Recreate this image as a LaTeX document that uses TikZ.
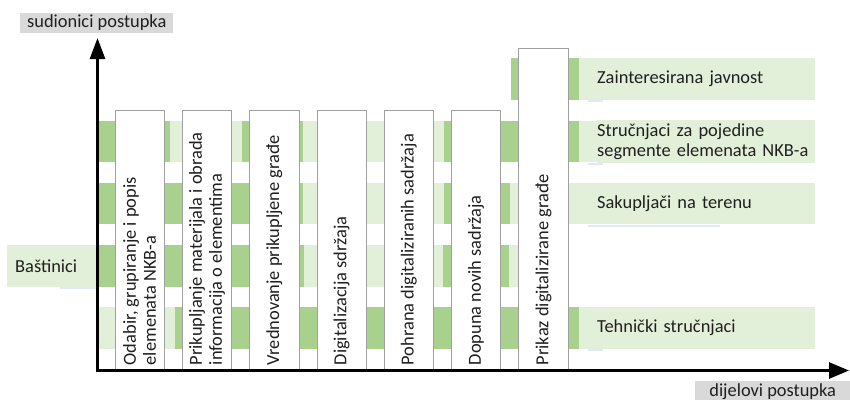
\documentclass[tikz,border=0pt]{standalone}
\usepackage{fontspec}
\setmainfont{Carlito}
\usetikzlibrary{arrows.meta}
\definecolor{dkg}{HTML}{A9D18E}
\definecolor{ltg}{HTML}{E2F0D9}
\definecolor{boxline}{HTML}{A0A0A0}
\definecolor{lblgray}{HTML}{D9D9D9}
\definecolor{txt}{HTML}{1F1F1F}
\definecolor{shd}{HTML}{E0E9F6}
\begin{document}
\begin{tikzpicture}[x=1pt,y=-1pt,
  font=\fontsize{18.4}{20}\selectfont,
  stepbox/.style={draw=boxline, fill=white, line width=0.8pt, minimum width=49.3pt, inner sep=0pt},
  steptext/.style={rotate=90, anchor=west, align=left, inner sep=0pt, text=txt},
  rolebox/.style={fill=ltg, anchor=west, minimum height=41.7pt, inner xsep=0pt, align=left, text=txt},
  axislabel/.style={fill=lblgray, anchor=north west, minimum height=20pt, inner xsep=7pt, inner ysep=0pt, text=txt},
  axisline/.style={line width=2.6pt, line join=miter, {Triangle[length=21pt,width=15pt]}-{Triangle[length=20pt,width=16pt]}},
  shadowline/.style={draw=shd, line width=2pt}
]
\useasboundingbox (0,0) rectangle (850,399);
\fill[white] (0,0) rectangle (850,399);

% bands
% Zainteresirana javnost
\fill[ltg] (511,58.3) rectangle (815,100);
\fill[dkg] (511,58.3) rectangle (579,100);
% Strucnjaci
\fill[ltg] (97,120.5) rectangle (815,162.2);
\fill[dkg] (97,120.5) rectangle (170,162.2);
\fill[dkg] (241.7,120.5) rectangle (303,162.2);
\fill[dkg] (444,120.5) rectangle (579,162.2);
% Sakupljaci
\fill[ltg] (97,182.7) rectangle (815,224.4);
\fill[dkg] (97,182.7) rectangle (303,224.4);
\fill[dkg] (444,182.7) rectangle (510,224.4);
% Bastinici
\fill[ltg] (7,244.9) rectangle (540,286.6);
\fill[dkg] (97,244.9) rectangle (304,286.6);
\fill[dkg] (443,244.9) rectangle (509,286.6);
% Tehnicki
\fill[ltg] (97,307.1) rectangle (815,348.8);
\fill[dkg] (175,307.1) rectangle (579,348.8);

% role labels (text starts 9pt inside the label area)
\node[rolebox, text width=218pt] (rz) at (597,79.15) {Zainteresirana javnost};
\node[rolebox, text width=218pt] (rs) at (597,141.35) {Stručnjaci za pojedine\\segmente elemenata NKB-a};
\node[rolebox, text width=218pt] (rsa) at (597,203.55) {Sakupljači na terenu};
\node[rolebox, text width=70pt] (rb) at (15,265.75) {Baštinici};
\node[rolebox, text width=218pt] (rt) at (597,327.95) {Tehnički stručnjaci};

% faint shadows under the role labels
\draw[shadowline] ([yshift=-1.2pt,xshift=-9pt]rz.south west) -- ++(15,0);
\draw[shadowline] ([yshift=-1.2pt,xshift=-9pt]rs.south west) -- ++(15,0);
\draw[shadowline] ([yshift=-1.2pt,xshift=-9pt]rsa.south west) -- ++(132,0);
\draw[shadowline] ([yshift=-1.2pt,xshift=45pt]rb.south west) -- ++(37,0);
\draw[shadowline] ([yshift=-1.2pt,xshift=-9pt]rt.south west) -- ++(15,0);

% step boxes
\node[stepbox, minimum height=258.3pt] (b1) at (139.65,239.85) {};
\node[stepbox, minimum height=258.3pt] (b2) at (206.95,239.85) {};
\node[stepbox, minimum height=258.3pt] (b3) at (274.25,239.85) {};
\node[stepbox, minimum height=258.3pt] (b4) at (341.55,239.85) {};
\node[stepbox, minimum height=258.3pt] (b5) at (408.85,239.85) {};
\node[stepbox, minimum height=258.3pt] (b6) at (476.15,239.85) {};
\node[stepbox, minimum height=320.7pt] (b7) at (543.45,208.65) {};

\node[steptext] (t1) at ([yshift=4pt]b1.south) {Odabir, grupiranje i popis\\elemenata NKB-a};
\node[steptext] (t2) at ([yshift=4pt]b2.south) {Prikupljanje materijala i obrada\\informacija o elementima};
\node[steptext] (t3) at ([yshift=4pt]b3.south) {Vrednovanje prikupljene građe};
\node[steptext] (t4) at ([yshift=4pt]b4.south) {Digitalizacija sdržaja};
\node[steptext] (t5) at ([yshift=4pt]b5.south) {Pohrana digitaliziranih sadržaja};
\node[steptext] (t6) at ([yshift=4pt]b6.south) {Dopuna novih sadržaja};
\node[steptext] (t7) at ([yshift=4pt]b7.south) {Prikaz digitalizirane građe};

% axes
\coordinate (O) at (97.5,370.5);
\coordinate (ytip) at (97.5,38);
\coordinate (xtip) at (849,370.5);
\draw[axisline] (ytip) -- (O) -- (xtip);

% axis labels
\node[axislabel, minimum width=153pt] (ylab) at (20,12.7) {sudionici postupka};
\node[axislabel, minimum width=155pt] (xlab) at (695,381) {dijelovi postupka};
\end{tikzpicture}
\end{document}
